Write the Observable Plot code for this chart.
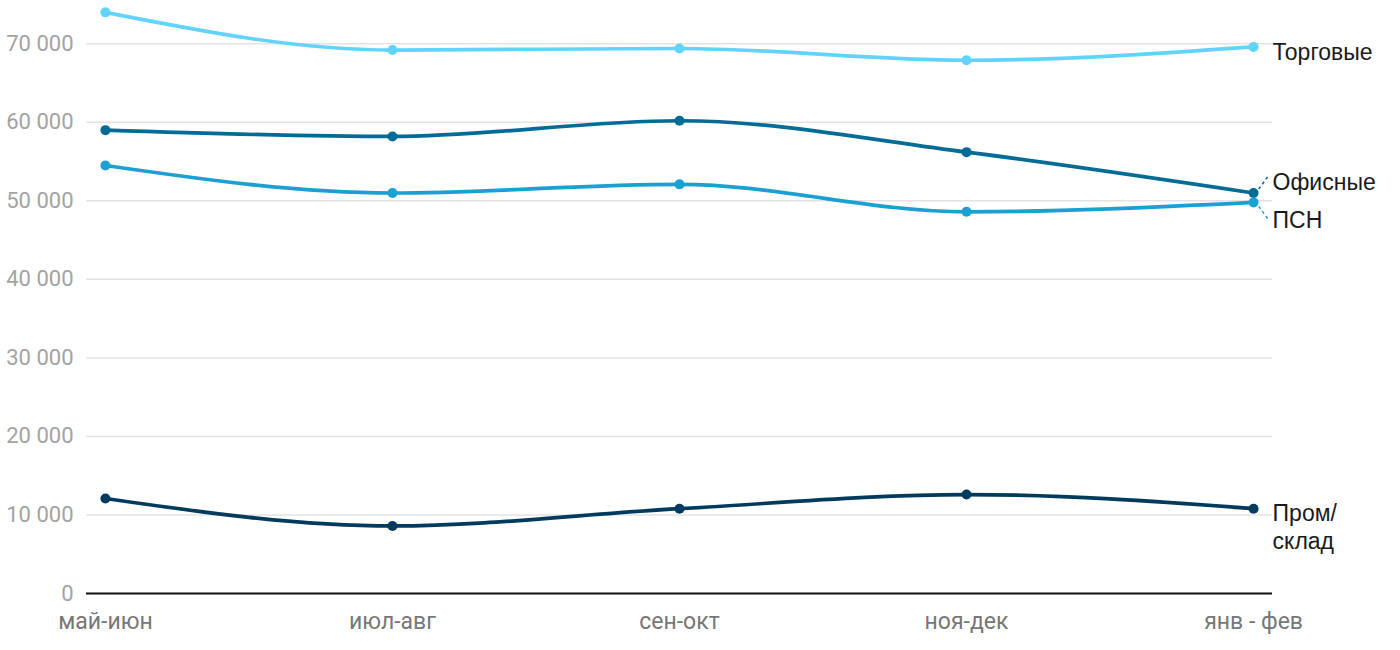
<!DOCTYPE html>
<html>
<head>
<meta charset="utf-8">
<script src="https://cdn.jsdelivr.net/npm/d3@7"></script>
<script src="https://cdn.jsdelivr.net/npm/@observablehq/plot@0.6"></script>
<style>
  html, body { margin: 0; padding: 0; background: #fff; }
  #chart svg { display: block; }
</style>
</head>
<body>
<div id="chart"></div>
<script>
const periods = ["май-июн", "июл-авг", "сен-окт", "ноя-дек", "янв - фев"];
const seriesNames = ["Торговые", "Офисные", "ПСН", "Пром/склад"];
const labelTexts = ["Торговые", "Офисные", "ПСН", "Пром/\nсклад"];
const colors = ["#62d4fc", "#036c96", "#1aa1d1", "#003b5e"];
const trade = [74000, 69200, 69400, 67900, 69600];
const office = [59000, 58200, 60200, 56200, 51000];
const psn = [54500, 51000, 52100, 48600, 49800];
const warehouse = [12100, 8600, 10800, 12600, 10800];
const yTicks = [0, 10000, 20000, 30000, 40000, 50000, 60000, 70000];

const valuesBySeries = [trade, office, psn, warehouse];
const rows = [];
seriesNames.forEach((s, si) => {
  valuesBySeries[si].forEach((v, i) => rows.push({series: s, i, period: periods[i], value: v}));
});
const n = periods.length - 1;
const last = seriesNames.map((s, si) => ({series: s, label: labelTexts[si], i: n, value: valuesBySeries[si][n]}));

const labelDy = {"Торговые": 4, "Офисные": -12, "ПСН": 16, "Пром/склад": 17};

const connectors = [
  {series: "Офисные", value: office[n], dir: 1},
  {series: "ПСН", value: psn[n], dir: -1}
];

const fmt = v => d3.format(",")(v).replace(/,/g, " ");

const labelMarks = last.map(d => Plot.text([d], {
  x: "i", y: "value", text: "label", dx: 19, dy: labelDy[d.series], textAnchor: "start",
  fill: "#1a1a1a", fontSize: 23, fontFamily: "Liberation Sans, Arial, sans-serif", lineHeight: 1.25
}));

const chart = Plot.plot({
  width: 1400,
  height: 650,
  marginLeft: 86,
  marginRight: 128,
  marginTop: 4,
  marginBottom: 57,
  style: {fontFamily: "Roboto, sans-serif", fontSize: "20px", background: "#fff"},
  x: {domain: [-0.066, n + 0.066], axis: null},
  y: {domain: [0, 75000], axis: null},
  color: {domain: seriesNames, range: colors},
  marks: [
    Plot.ruleY(yTicks.filter(d => d > 0), {stroke: "#e3e3e3", strokeWidth: 1.5}),
    Plot.text(yTicks, {x: -0.066, y: d => d, text: d => fmt(d), textAnchor: "end", dx: -13, fill: "#a3a3a3", fontSize: 22}),
    Plot.text(periods, {x: (d, i) => i, y: 0, text: d => d, dy: 28, fill: "#777", fontSize: 23}),
    Plot.ruleY([0], {stroke: "#111", strokeWidth: 2}),
    Plot.line(rows, {x: "i", y: "value", z: "series", stroke: "series", strokeWidth: 3.7, curve: "monotone-x"}),
    Plot.dot(rows, {x: "i", y: "value", fill: "series", r: 5}),
    Plot.link(connectors, {
      x1: () => n + 0.018, x2: () => n + 0.05,
      y1: d => d.value + d.dir * 500, y2: d => d.value + d.dir * 2100,
      stroke: "series", strokeWidth: 1.5, strokeDasharray: "3,3"
    }),
    ...labelMarks
  ]
});
document.getElementById("chart").appendChild(chart);
</script>
</body>
</html>
